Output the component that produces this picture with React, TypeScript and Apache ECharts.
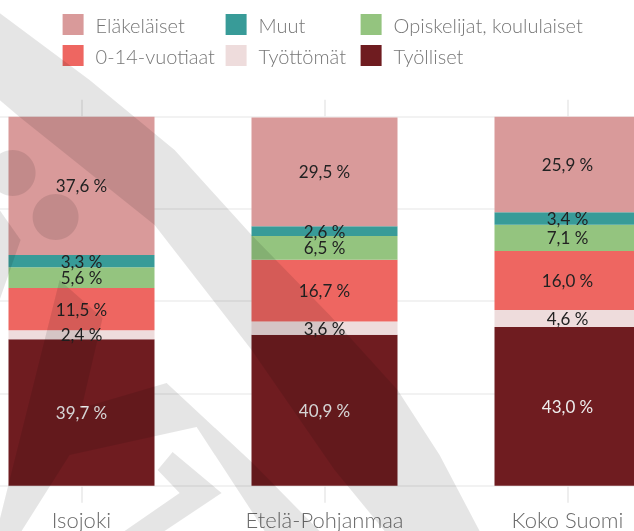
import React, { useEffect, useRef } from 'react';
import * as echarts from 'echarts';

const categories = ['Isojoki', 'Etelä-Pohjanmaa', 'Koko Suomi'];
const tyolliset = [39.7, 40.9, 43.0];
const tyottomat = [2.4, 3.6, 4.6];
const lapset = [11.5, 16.7, 16.0];
const opiskelijat = [5.6, 6.5, 7.1];
const muut = [3.3, 2.6, 3.4];
const elakelaiset = [37.6, 29.5, 25.9];

const legendColumns = [
  ['Eläkeläiset', '0-14-vuotiaat'],
  ['Muut', 'Työttömät'],
  ['Opiskelijat, koululaiset', 'Työlliset'],
];
const legendLefts = [63, 226, 361];

const seriesDefs = [
  { name: 'Työlliset', data: tyolliset, color: '#6f1c20', labelColor: '#eeeeee' },
  { name: 'Työttömät', data: tyottomat, color: '#eedcdc', labelColor: '#222222' },
  { name: '0-14-vuotiaat', data: lapset, color: '#ee6661', labelColor: '#222222' },
  { name: 'Opiskelijat, koululaiset', data: opiskelijat, color: '#94c47f', labelColor: '#222222' },
  { name: 'Muut', data: muut, color: '#389b98', labelColor: '#222222' },
  { name: 'Eläkeläiset', data: elakelaiset, color: '#d99a9a', labelColor: '#222222' },
];

const FONT = 'Lato, "Noto Sans", sans-serif';
const WM = 'rgba(0,0,0,0.1)';
// the chart canvas is wider than the window: the plot extends past both edges
const OFFSET = 39.6;
const CHART_W = 729;

const watermarkShapes: any[] = [
  {
    type: 'polygon',
    shape: {
      points: [
        [0, 13], [90, 80], [175, 150], [252, 235], [330, 315], [398, 390], [440, 455], [480, 531],
        [385, 531], [335, 470], [252, 350], [155, 225], [20, 117], [0, 100],
      ],
    },
  },
  { type: 'circle', shape: { cx: 13, cy: 173, r: 23 } },
  { type: 'circle', shape: { cx: 56, cy: 217, r: 23 } },
  { type: 'polygon', shape: { points: [[0, 210], [21, 240], [0, 300]] } },
  {
    type: 'polygon',
    shape: {
      points: [
        [60, 280], [103, 318], [82, 408], [167, 383], [252, 462], [320, 531], [265, 531],
        [197, 427], [70, 455], [22, 531], [0, 531], [0, 520],
      ],
    },
  },
  {
    type: 'polygon',
    shape: { points: [[173, 452], [222, 493], [165, 531], [125, 531], [180, 493], [158, 470]] },
  },
].map((g) => ({ ...g, z: 100, zlevel: 0, silent: true, style: { fill: WM } }));

export default function App() {
  const ref = useRef<HTMLDivElement>(null);
  useEffect(() => {
    const chart = echarts.init(ref.current!, null, { renderer: 'svg' });
    const tick = { show: true, alignWithLabel: true, length: 17, lineStyle: { color: '#eeeeee', width: 2 } };
    chart.setOption({
      animation: false,
      textStyle: { fontFamily: FONT },
      grid: { left: 0, right: 0, top: 116.7, bottom: 45.3, containLabel: false },
      legend: legendColumns.map((col, i) => ({
        data: col,
        left: legendLefts[i] + OFFSET,
        top: 14,
        orient: 'vertical',
        padding: 0,
        itemGap: 10,
        itemWidth: 21,
        itemHeight: 21,
        icon: 'rect',
        selectedMode: false,
        textStyle: { fontSize: 20, fontWeight: 300, color: '#777777', fontFamily: FONT, padding: [0, 0, 0, 7] },
      })),
      xAxis: [
        {
          type: 'category',
          data: categories,
          position: 'bottom',
          axisLine: { show: false },
          axisTick: tick,
          splitLine: { show: false },
          axisLabel: { fontSize: 22, fontWeight: 300, color: '#6a6a6a', margin: 23, fontFamily: FONT },
        },
        {
          type: 'category',
          data: categories,
          position: 'top',
          axisLine: { show: false },
          axisTick: tick,
          splitLine: { show: false },
          axisLabel: { show: false },
        },
      ],
      yAxis: {
        type: 'value',
        min: 0,
        max: 100,
        interval: 25,
        axisLabel: { show: false },
        axisLine: { show: false },
        axisTick: { show: false },
        splitLine: { lineStyle: { color: '#f2f2f2', width: 2 } },
      },
      series: seriesDefs.map((s) => ({
        type: 'bar',
        name: s.name,
        stack: 'total',
        xAxisIndex: 0,
        data: s.data,
        barWidth: 146,
        itemStyle: { color: s.color },
        emphasis: { disabled: true },
        label: {
          show: true,
          position: 'inside',
          color: s.labelColor,
          fontSize: 17,
          fontWeight: 400,
          fontFamily: FONT,
          formatter: (p: any) => p.value.toFixed(1).replace('.', ',') + ' %',
        },
      })),
      graphic: [{ type: 'group', x: OFFSET, y: 0, z: 100, silent: true, children: watermarkShapes }],
    });
    return () => chart.dispose();
  }, []);
  return (
    <div
      ref={ref}
      style={{ position: 'fixed', left: -OFFSET, top: 0, width: CHART_W, height: 531 }}
    />
  );
}
